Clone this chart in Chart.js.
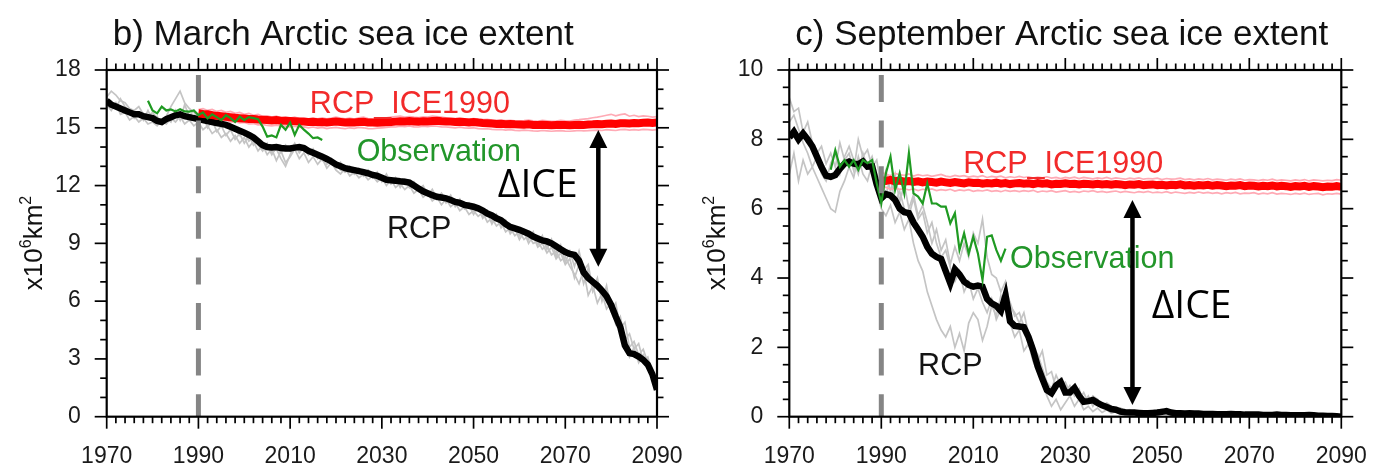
<!DOCTYPE html>
<html><head><meta charset="utf-8">
<script src="https://cdn.jsdelivr.net/npm/chart.js@4.4.1/dist/chart.umd.min.js"></script>
<style>
html,body{margin:0;padding:0;background:#fff;width:1389px;height:468px;overflow:hidden}
canvas{position:absolute;top:0}
#c1{left:0}#c2{left:694px}
</style></head>
<body>
<canvas id="c1" width="694" height="468"></canvas>
<canvas id="c2" width="695" height="468"></canvas>
<script>
// ---------------- DATA ----------------
const RUN_START = 1970;   // first year of RCP runs
const ICE_START = 1990;   // first year of RCP_ICE1990 runs
const OBS_START = 1979;   // first year of observations
const REF_YEAR = 1990;

const xTickLabels = ['1970','1990','2010','2030','2050','2070','2090'];
const marchTickLabels = ['0','3','6','9','12','15','18'];
const septTickLabels = ['0','2','4','6','8','10'];

// March (panel b)
const marchRcp = [
16.4,16.2,16.1,16.0,15.9,15.8,15.7,15.7,15.6,15.55,
15.5,15.35,15.3,15.45,15.55,15.65,15.7,15.6,15.55,15.5,
15.45,15.4,15.35,15.3,15.25,15.2,15.15,15.05,14.95,14.85,
14.75,14.63,14.5,14.3,14.1,14.0,13.98,14.0,13.95,13.92,
13.93,13.97,14.0,13.95,13.8,13.7,13.6,13.5,13.38,13.25,
13.1,13.0,12.9,12.85,12.8,12.75,12.7,12.64,12.55,12.5,
12.4,12.3,12.28,12.25,12.22,12.2,12.15,12.0,11.85,11.7,
11.6,11.5,11.42,11.38,11.34,11.25,11.15,11.1,11.0,10.95,
10.9,10.82,10.7,10.55,10.45,10.3,10.2,10.0,9.85,9.78,
9.7,9.6,9.5,9.35,9.25,9.15,9.1,9.0,8.85,8.7,
8.55,8.45,8.4,8.1,7.5,7.2,7.0,6.8,6.55,6.25,
5.8,5.2,4.65,3.7,3.3,3.25,3.12,2.95,2.7,2.2,
1.4];
const marchMemberA = [
16.6,16.9,16.7,16.4,16.3,16.0,15.9,16.1,15.7,15.6,
15.8,15.5,15.2,15.6,16.1,16.5,16.9,16.3,16.0,15.8,
15.6,15.9,15.5,15.8,15.4,15.3,15.6,15.2,14.9,14.6,
14.8,14.3,14.5,14.1,13.8,14.2,13.7,13.9,13.4,13.0,
13.6,14.1,13.8,13.9,13.6,13.8,13.5,13.3,13.5,13.1,
13.2,12.8,12.7,13.0,12.6,12.9,12.5,12.8,12.4,12.6,
12.3,12.5,12.1,12.4,12.0,12.3,11.9,12.1,11.7,11.9,
11.5,11.7,11.3,11.6,11.2,11.5,11.0,11.3,10.8,11.1,
10.7,10.9,10.4,10.7,10.1,10.5,9.9,10.2,9.6,9.9,
9.4,9.7,9.2,9.6,8.9,9.4,8.7,9.2,8.3,8.9,
8.0,8.6,7.8,8.6,7.6,7.9,6.6,7.2,6.0,6.8,
5.5,5.9,4.6,4.9,3.6,3.9,3.2,3.5,2.8,2.4,
1.6];
const marchMemberB = [
16.2,15.9,16.3,15.7,15.8,15.4,15.6,15.3,15.5,15.2,
15.3,15.1,15.4,15.2,15.5,15.3,15.6,15.2,15.4,15.1,
15.3,14.9,15.1,14.7,14.9,14.5,14.7,14.3,14.6,14.2,
14.5,14.0,14.3,13.8,14.1,13.6,13.9,13.3,13.8,13.2,
13.5,13.9,13.4,13.7,13.2,13.5,13.1,13.4,12.9,13.2,
12.8,12.6,12.9,12.5,12.7,12.4,12.6,12.3,12.5,12.2,
12.4,12.0,12.3,11.9,12.1,11.8,12.0,11.6,11.8,11.4,
11.6,11.2,11.4,11.0,11.3,10.9,11.1,10.7,10.9,10.5,
10.7,10.4,10.6,10.1,10.3,9.9,10.1,9.6,9.8,9.4,
9.6,9.2,9.4,9.0,9.1,8.7,8.9,8.4,8.6,8.1,
8.3,7.8,7.4,6.9,7.6,6.3,6.8,5.9,6.4,5.6,
5.9,4.8,5.2,4.0,4.3,3.5,3.8,2.9,3.1,2.2,
1.3];
const marchMemberC = [
16.5,16.4,16.0,16.5,16.1,15.9,15.5,15.8,15.4,15.9,
15.4,15.6,15.2,15.5,15.3,15.9,15.4,16.2,15.6,15.9,
15.2,15.6,15.0,15.4,14.8,15.1,14.6,14.9,14.4,14.7,
14.2,14.6,14.1,14.4,13.9,14.1,13.6,14.0,13.7,14.1,
13.8,14.2,13.7,14.0,13.6,13.9,13.4,13.6,13.1,13.4,
12.9,13.2,12.7,12.9,12.6,12.8,12.5,12.8,12.4,12.7,
12.2,12.6,12.1,12.4,11.9,12.3,11.9,12.2,11.8,12.0,
11.5,11.8,11.3,11.6,11.1,11.4,10.9,11.2,10.8,11.0,
10.5,10.9,10.3,10.6,10.0,10.4,9.8,10.1,9.5,9.8,
9.2,9.6,9.0,9.4,8.8,9.0,8.5,8.8,8.2,8.5,
7.9,8.2,7.2,7.9,6.9,7.7,6.5,7.0,6.1,6.6,
5.9,5.2,4.4,3.9,3.1,3.6,2.8,3.2,2.5,2.0,
1.5];
const marchIce1990 = [
15.75,15.72,15.7,15.66,15.62,15.6,15.57,15.55,15.52,15.5,
15.48,15.46,15.45,15.43,15.42,15.4,15.38,15.4,15.37,15.36,
15.35,15.34,15.33,15.32,15.3,15.31,15.29,15.3,15.28,15.3,
15.32,15.3,15.28,15.29,15.27,15.3,15.31,15.28,15.27,15.26,
15.27,15.29,15.3,15.32,15.34,15.33,15.35,15.33,15.32,15.34,
15.33,15.35,15.36,15.34,15.33,15.32,15.3,15.31,15.3,15.28,
15.3,15.27,15.25,15.24,15.22,15.2,15.21,15.19,15.2,15.18,
15.17,15.16,15.18,15.15,15.14,15.16,15.15,15.13,15.14,15.15,
15.14,15.13,15.15,15.16,15.15,15.17,15.18,15.2,15.19,15.21,
15.22,15.2,15.23,15.24,15.22,15.25,15.24,15.26,15.27,15.25,
15.28];
const marchIceMemberA = [
15.95,16.0,15.9,15.95,15.85,15.9,15.8,15.85,15.75,15.8,
15.7,15.75,15.65,15.7,15.6,15.62,15.55,15.6,15.5,15.55,
15.5,15.55,15.48,15.52,15.45,15.5,15.46,15.52,15.47,15.5,
15.55,15.5,15.46,15.5,15.45,15.52,15.55,15.48,15.45,15.47,
15.5,15.52,15.55,15.58,15.6,15.55,15.58,15.55,15.53,15.57,
15.55,15.6,15.58,15.55,15.52,15.5,15.48,15.5,15.47,15.45,
15.48,15.45,15.42,15.44,15.4,15.38,15.4,15.37,15.39,15.36,
15.35,15.37,15.4,15.36,15.34,15.38,15.36,15.33,15.35,15.38,
15.36,15.35,15.4,15.42,15.45,15.48,15.52,15.55,15.6,15.65,
15.7,15.62,15.68,15.72,15.6,15.65,15.58,15.62,15.6,15.55,
15.58];
const marchIceMemberB = [
15.5,15.45,15.5,15.4,15.42,15.35,15.4,15.3,15.32,15.25,
15.28,15.2,15.22,15.15,15.18,15.12,15.1,15.14,15.08,15.1,
15.05,15.08,15.02,15.05,15.0,15.04,14.98,15.02,14.96,15.0,
15.02,14.98,14.95,15.0,14.97,15.02,15.0,14.96,14.95,14.98,
15.0,15.02,15.05,15.04,15.08,15.06,15.1,15.05,15.04,15.08,
15.06,15.1,15.08,15.05,15.04,15.02,15.0,15.03,15.0,14.98,
15.0,14.96,14.94,14.95,14.92,14.9,14.92,14.88,14.9,14.87,
14.85,14.88,14.86,14.84,14.83,14.86,14.84,14.82,14.84,14.85,
14.83,14.82,14.84,14.86,14.84,14.85,14.87,14.88,14.86,14.9,
14.88,14.86,14.9,14.92,14.88,14.9,14.88,14.92,14.9,14.88,
14.9];
const marchObs = [
16.4,15.9,15.75,16.1,15.9,15.95,15.85,15.96,15.85,15.84,
15.9,15.66,15.8,15.49,15.7,15.55,15.4,15.65,15.5,15.3,
15.58,15.4,15.55,15.5,15.45,15.06,14.54,14.6,14.5,15.15,
14.9,15.27,14.63,15.15,14.9,14.7,14.46,14.5,14.37];

// September (panel c)
const septRcp = [
8.05,8.22,8.0,8.17,8.0,7.8,7.5,7.2,6.95,6.92,
6.97,7.15,7.3,7.36,7.3,7.28,7.36,7.21,7.22,6.7,
6.3,6.42,6.38,6.25,6.0,5.9,5.87,5.6,5.4,5.19,
4.9,4.7,4.61,4.55,4.2,3.85,4.25,4.1,3.9,3.8,
3.75,3.78,3.75,3.4,3.27,3.2,3.05,3.5,2.75,2.62,
2.6,2.58,2.3,1.92,1.45,1.1,0.77,0.68,0.9,1.0,
0.7,0.7,0.83,0.6,0.43,0.45,0.48,0.4,0.33,0.28,
0.22,0.2,0.15,0.13,0.12,0.12,0.11,0.1,0.1,0.11,
0.12,0.14,0.16,0.12,0.1,0.1,0.09,0.1,0.09,0.09,
0.08,0.08,0.08,0.07,0.07,0.07,0.08,0.07,0.07,0.06,
0.06,0.06,0.06,0.05,0.05,0.05,0.06,0.05,0.05,0.04,
0.04,0.04,0.04,0.05,0.04,0.03,0.03,0.02,0.02,0.01,
0.0];
const septMemberA = [
9.2,8.8,8.9,8.2,8.5,7.9,7.6,7.8,7.3,7.6,
7.2,7.9,7.4,7.6,7.1,8.0,7.5,7.7,7.2,7.4,
6.6,7.1,6.5,7.0,6.2,6.7,6.0,6.4,5.8,6.1,
5.6,5.0,5.4,4.8,5.1,4.4,4.9,4.5,5.0,4.6,
5.3,5.0,5.7,4.6,4.1,4.0,3.6,3.9,3.2,3.0,
2.7,3.0,2.4,2.1,1.6,1.9,1.2,1.3,0.8,1.1,
0.7,0.9,0.6,0.8,0.4,0.6,0.3,0.5,0.3,0.2,
0.3,0.2,0.15,0.2,0.12,0.18,0.1,0.15,0.12,0.14,
0.18,0.22,0.15,0.12,0.1,0.11,0.09,0.1,0.09,0.08,
0.09,0.08,0.1,0.07,0.08,0.07,0.09,0.06,0.07,0.06,
0.07,0.06,0.05,0.06,0.05,0.06,0.05,0.04,0.05,0.04,
0.04,0.05,0.03,0.04,0.03,0.03,0.02,0.03,0.02,0.01,
0.01];
const septMemberB = [
7.0,7.6,6.8,7.4,7.0,7.2,6.9,6.6,6.3,6.0,
5.9,6.5,6.8,7.2,6.9,7.5,7.0,6.8,7.3,6.5,
6.0,5.8,6.1,5.6,5.9,5.4,5.7,5.0,4.5,4.2,
3.6,3.2,2.8,2.5,2.3,2.6,2.0,2.4,1.9,2.7,
3.0,2.8,2.2,2.6,3.2,2.9,3.5,3.1,2.7,2.3,
2.5,1.9,2.1,1.6,1.3,1.0,0.6,0.3,0.5,0.2,
0.4,0.6,0.3,0.5,0.2,0.3,0.15,0.25,0.12,0.2,
0.1,0.15,0.08,0.12,0.07,0.1,0.06,0.09,0.08,0.1,
0.13,0.1,0.09,0.08,0.1,0.07,0.08,0.07,0.06,0.08,
0.07,0.06,0.07,0.05,0.06,0.05,0.07,0.05,0.06,0.05,
0.05,0.04,0.05,0.04,0.05,0.04,0.03,0.04,0.03,0.04,
0.03,0.03,0.02,0.03,0.02,0.02,0.02,0.01,0.01,0.01,
0.0];
const septMemberC = [
8.5,8.7,8.3,7.9,7.6,7.2,7.5,7.0,6.8,7.3,
7.6,7.0,7.5,7.8,7.4,7.0,7.6,7.2,7.5,7.0,
6.8,6.4,6.9,6.2,6.5,6.0,5.8,6.3,5.7,5.9,
5.3,5.6,5.0,4.6,4.8,4.3,3.9,4.2,3.6,3.9,
3.4,3.7,3.3,3.0,3.4,2.8,3.1,3.6,3.3,2.9,
3.0,2.6,2.4,2.0,1.8,1.4,1.0,0.8,1.2,0.9,
1.0,0.7,0.9,0.5,0.7,0.4,0.6,0.5,0.3,0.4,
0.3,0.2,0.25,0.15,0.2,0.12,0.1,0.14,0.11,0.13,
0.15,0.19,0.12,0.11,0.13,0.1,0.11,0.09,0.1,0.08,
0.09,0.08,0.07,0.08,0.06,0.07,0.06,0.08,0.06,0.07,
0.06,0.05,0.06,0.05,0.06,0.04,0.05,0.04,0.05,0.04,
0.03,0.04,0.03,0.04,0.03,0.02,0.03,0.02,0.01,0.02,
0.01];
const septIce1990 = [
6.82,6.8,6.83,6.79,6.81,6.78,6.8,6.77,6.79,6.76,
6.78,6.77,6.75,6.78,6.76,6.74,6.77,6.75,6.73,6.76,
6.74,6.75,6.72,6.74,6.73,6.75,6.72,6.74,6.71,6.73,
6.74,6.72,6.73,6.71,6.74,6.72,6.73,6.7,6.72,6.71,
6.73,6.71,6.72,6.7,6.72,6.71,6.7,6.72,6.7,6.71,
6.69,6.71,6.7,6.68,6.7,6.69,6.71,6.68,6.69,6.7,
6.68,6.69,6.67,6.69,6.68,6.7,6.67,6.68,6.66,6.68,
6.67,6.69,6.66,6.68,6.67,6.65,6.67,6.66,6.68,6.65,
6.67,6.66,6.64,6.66,6.65,6.67,6.64,6.66,6.65,6.63,
6.65,6.64,6.66,6.63,6.65,6.64,6.62,6.64,6.63,6.65,
6.63];
const septIceMemberA = [
7.05,7.0,6.95,7.02,6.98,6.96,7.0,6.94,6.98,6.95,
6.97,6.93,6.96,6.99,6.94,6.92,6.96,6.93,6.95,6.91,
6.94,6.92,6.95,6.9,6.93,6.91,6.94,6.89,6.92,6.9,
6.93,6.9,6.92,6.88,6.91,6.89,6.92,6.88,6.9,6.87,
6.9,6.88,6.91,6.87,6.9,6.88,6.86,6.89,6.87,6.9,
6.86,6.89,6.87,6.85,6.88,6.86,6.89,6.85,6.87,6.86,
6.88,6.84,6.87,6.85,6.86,6.88,6.84,6.86,6.83,6.86,
6.84,6.87,6.83,6.85,6.84,6.82,6.85,6.83,6.86,6.82,
6.84,6.83,6.81,6.84,6.82,6.85,6.81,6.83,6.82,6.8,
6.83,6.81,6.84,6.8,6.83,6.82,6.8,6.82,6.81,6.84,
6.82];
const septIceMemberB = [
6.6,6.62,6.55,6.6,6.56,6.58,6.54,6.57,6.52,6.56,
6.54,6.57,6.52,6.55,6.53,6.56,6.51,6.54,6.52,6.55,
6.5,6.53,6.51,6.54,6.5,6.52,6.49,6.53,6.5,6.52,
6.49,6.52,6.5,6.53,6.48,6.51,6.49,6.52,6.48,6.5,
6.52,6.48,6.5,6.47,6.51,6.49,6.52,6.48,6.5,6.47,
6.49,6.51,6.47,6.5,6.48,6.46,6.49,6.47,6.5,6.46,
6.48,6.46,6.49,6.45,6.48,6.46,6.44,6.47,6.45,6.48,
6.45,6.47,6.44,6.46,6.43,6.46,6.44,6.47,6.43,6.45,
6.44,6.46,6.42,6.45,6.43,6.46,6.42,6.44,6.43,6.41,
6.44,6.42,6.45,6.41,6.43,6.44,6.4,6.43,6.42,6.44,
6.42];
const septObs = [
7.12,7.69,7.21,7.4,7.21,7.4,7.12,7.4,7.31,7.4,
6.73,6.15,7.02,7.5,6.54,7.02,6.44,7.6,6.44,6.35,
6.15,6.73,6.15,6.15,6.06,6.06,5.58,5.87,4.81,5.29,
4.71,5.19,4.71,3.94,5.19,5.23,4.81,4.5,4.85];

// ---------------- ANNOTATIONS (data units) ----------------
const marchNotes = [
  {text:'RCP_ICE1990', year:2014.3, value:15.77, kind:'ice'},
  {text:'Observation', year:2024.5, value:13.28, kind:'obs'},
  {text:'RCP', year:2031.1, value:9.28, kind:'rcp'},
  {text:'ΔICE', year:2055.3, value:11.41, kind:'delta'}
];
const marchArrow = {year:2077.2, from:14.88, to:7.79};
const septNotes = [
  {text:'RCP_ICE1990', year:2007.8, value:7.03, kind:'ice'},
  {text:'Observation', year:2018.0, value:4.28, kind:'obs'},
  {text:'RCP', year:1998.0, value:1.2, kind:'rcp'},
  {text:'ΔICE', year:2048.8, value:2.85, kind:'delta'}
];
const septArrow = {year:2044.6, from:6.25, to:0.34};

// ---------------- STYLES ----------------
const FONT = '"Liberation Sans", Arial, Helvetica, sans-serif';
const noteStyle = {
  ice:{color:'#f22a2a', font:'30.5px '+FONT},
  obs:{color:'#22962a', font:'30.5px '+FONT},
  rcp:{color:'#141414', font:'30.5px '+FONT},
  delta:{color:'#000', font:'39px "Open Sans", "DejaVu Sans", sans-serif'}
};

function series(start, arr){ return arr.map((v,i)=>({x:start+i, y:v})); }

function buildDatasets(P){
  const grey = a => ({data:series(RUN_START,a), borderColor:'#c4c4c4', borderWidth:1.7, order:6});
  const pink = a => ({data:series(ICE_START,a), borderColor:'#ffaab5', borderWidth:1.7, order:5});
  return [
    {data:[{x:REF_YEAR,y:P.ymax},{x:REF_YEAR,y:0}], borderColor:'#858585', borderWidth:5,
     borderDash:[27,18.6], borderDashOffset:40.6, borderCapStyle:'butt', order:0},
    {data:series(OBS_START,P.obs), borderColor:'#1f9a22', borderWidth:2.2, order:1},
    {data:series(ICE_START,P.ice), borderColor:'#ff0000', borderWidth:8, order:2},
    {data:series(RUN_START,P.rcp), borderColor:'#000000', borderWidth:6.5, order:3},
    ...P.iceMembers.map(pink),
    ...P.members.map(grey)
  ];
}

function decor(P){
  return {
    id:'decor',
    afterDraw(chart){
      const {ctx, chartArea:a, scales:{x,y}} = chart;
      ctx.save();
      ctx.strokeStyle='#000'; ctx.lineCap='butt';
      const seg=(x1,y1,x2,y2)=>{ctx.beginPath();ctx.moveTo(x1,y1);ctx.lineTo(x2,y2);ctx.stroke();};
      ctx.lineWidth=1.7;
      for(let yr=+xTickLabels[0]; yr<=+xTickLabels[xTickLabels.length-1]; yr+=2){
        const px=x.getPixelForValue(yr);
        const L = xTickLabels.includes(String(yr)) ? 12 : 6.5;
        seg(px,a.bottom,px,a.bottom+L); seg(px,a.top,px,a.top-L);
      }
      const nMinor = Math.round(P.ymax/P.yminor);
      for(let k=0;k<=nMinor;k++){
        const v=k*P.yminor, py=y.getPixelForValue(v);
        const major = P.tickLabels.includes(String(+v.toFixed(3)));
        const L = major?12:6.5;
        seg(a.left-L,py,a.left,py); seg(a.right,py,a.right+L,py);
      }
      ctx.lineWidth=2.2;
      ctx.strokeRect(a.left,a.top,a.right-a.left,a.bottom-a.top);

      // title (left-aligned just inside the plot's left edge)
      ctx.fillStyle='#111'; ctx.textBaseline='alphabetic'; ctx.textAlign='left';
      ctx.font='35px '+FONT;
      ctx.fillText(P.title, a.left+6, 45);

      // y axis title with superscripts, rotated
      ctx.save();
      ctx.translate(P.ylabX, 243); ctx.rotate(-Math.PI/2);
      const parts=[['x10',26,0],['6',16,-11],['km',26,0],['2',16,-11]];
      let tot=0; parts.forEach(p=>{ctx.font=p[1]+'px '+FONT; tot+=ctx.measureText(p[0]).width;});
      let cx=-tot/2;
      parts.forEach(p=>{ctx.font=p[1]+'px '+FONT; ctx.fillText(p[0],cx,9+p[2]); cx+=ctx.measureText(p[0]).width;});
      ctx.restore();

      // notes
      P.notes.forEach(n=>{
        const st=noteStyle[n.kind];
        ctx.font=st.font; ctx.fillStyle=st.color;
        ctx.fillText(n.text, x.getPixelForValue(n.year), y.getPixelForValue(n.value));
      });

      // double arrow
      const ax=x.getPixelForValue(P.arrow.year);
      const y1=y.getPixelForValue(P.arrow.from), y2=y.getPixelForValue(P.arrow.to);
      const hl=18, hw=9;
      ctx.strokeStyle='#000'; ctx.lineWidth=4.5;
      seg(ax,y1+hl-2,ax,y2-hl+2);
      ctx.fillStyle='#000';
      ctx.beginPath(); ctx.moveTo(ax,y1); ctx.lineTo(ax-hw,y1+hl); ctx.lineTo(ax+hw,y1+hl); ctx.closePath(); ctx.fill();
      ctx.beginPath(); ctx.moveTo(ax,y2); ctx.lineTo(ax-hw,y2-hl); ctx.lineTo(ax+hw,y2-hl); ctx.closePath(); ctx.fill();
      ctx.restore();
    }
  };
}

function makeChart(id, P){
  new Chart(document.getElementById(id), {
    type:'line',
    data:{datasets:buildDatasets(P)},
    options:{
      responsive:false, animation:false, devicePixelRatio:1,
      layout:{padding:{left:0,right:P.padRight,top:70,bottom:0}},
      elements:{point:{radius:0,hoverRadius:0}, line:{tension:0, fill:false}},
      plugins:{legend:{display:false}, tooltip:{enabled:false}, title:{display:false}},
      events:[],
      scales:{
        x:{type:'linear', min:+xTickLabels[0], max:+xTickLabels[xTickLabels.length-1],
          grid:{display:false, drawTicks:false}, border:{display:false},
          afterBuildTicks:s=>{s.ticks=xTickLabels.map(v=>({value:+v}));},
          ticks:{font:{family:FONT,size:23}, color:'#1a1a1a', padding:26, maxRotation:0, autoSkip:false,
            callback:v=>String(v)},
          afterFit:s=>{s.height=51.3; s.paddingLeft=0; s.paddingRight=0;}
        },
        y:{type:'linear', min:0, max:P.ymax,
          grid:{display:false, drawTicks:false}, border:{display:false},
          afterBuildTicks:s=>{s.ticks=P.tickLabels.map(v=>({value:+v}));},
          ticks:{font:{family:FONT,size:23}, color:'#1a1a1a', padding:26, autoSkip:false,
            callback:v=>String(v)},
          afterFit:s=>{s.width=P.yWidth; s.paddingTop=0; s.paddingBottom=0;}
        }
      }
    },
    plugins:[decor(P)]
  });
}

makeChart('c1', {
  title:'b) March Arctic sea ice extent', ylabX:33,
  ymax:18, yminor:1, tickLabels:marchTickLabels, yWidth:106.7, padRight:37,
  rcp:marchRcp, members:[marchMemberA,marchMemberB,marchMemberC],
  ice:marchIce1990, iceMembers:[marchIceMemberA,marchIceMemberB], obs:marchObs,
  notes:marchNotes, arrow:marchArrow
});
makeChart('c2', {
  title:'c) September Arctic sea ice extent', ylabX:22,
  ymax:10, yminor:0.5, tickLabels:septTickLabels, yWidth:95.3, padRight:47.7,
  rcp:septRcp, members:[septMemberA,septMemberB,septMemberC],
  ice:septIce1990, iceMembers:[septIceMemberA,septIceMemberB], obs:septObs,
  notes:septNotes, arrow:septArrow
});
</script>
</body></html>
